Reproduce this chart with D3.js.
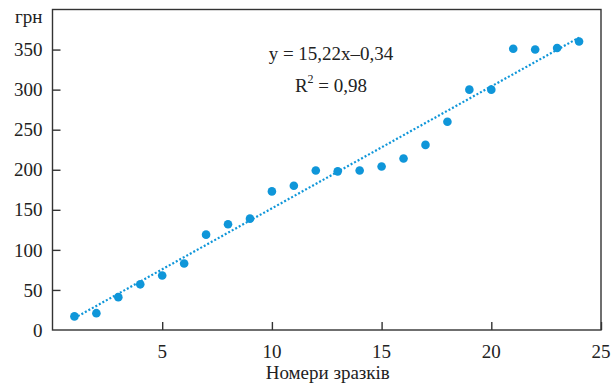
<!DOCTYPE html>
<html>
<head>
<meta charset="utf-8">
<script src="https://cdn.jsdelivr.net/npm/d3@7"></script>
<style>
  body { margin: 0; background: #fff; }
  svg text { font-family: "Liberation Serif", "DejaVu Serif", serif; fill: #222; }
</style>
</head>
<body>
<div id="chart"></div>
<script>
// номери зразків і ціни
var samples = [1, 2, 3, 4, 5, 6, 7, 8, 9, 10, 11, 12, 13, 14, 15, 16, 17, 18, 19, 20, 21, 22, 23, 24];
var prices = [17, 21, 41, 57, 68, 83, 119, 132, 139, 173, 180, 199, 198, 199, 204, 214, 231, 260, 300, 300, 351, 350, 352, 360];
var xTicks = [5, 10, 15, 20, 25];
var yTicks = [0, 50, 100, 150, 200, 250, 300, 350];
var trend = { slope: 15.22, intercept: -0.34 };
var eqLines = ["y = 15,22x–0,34", "R2 = 0,98"];

var width = 612, height = 384;
var margin = { top: 9.5, right: 11, bottom: 54, left: 52.5 };

var svg = d3.select("#chart").append("svg")
    .attr("width", width)
    .attr("height", height);

var x = d3.scaleLinear().domain([0, 25]).range([margin.left, width - margin.right]);
var y = d3.scaleLinear().domain([0, 400]).range([height - margin.bottom, margin.top]);

var color = "#0f96d9";

// рамка
svg.append("rect")
    .attr("x", x(0)).attr("y", y(400))
    .attr("width", x(25) - x(0)).attr("height", y(0) - y(400))
    .attr("fill", "none").attr("stroke", "#333").attr("stroke-width", 1.4);

// осі
var gx = svg.append("g")
    .attr("transform", "translate(0," + y(0) + ")")
    .call(d3.axisTop(x).tickValues(xTicks).tickSize(8).tickFormat(""));
gx.select(".domain").remove();
gx.selectAll("line").attr("stroke", "#333").attr("stroke-width", 1.4);

svg.append("g").selectAll("text")
    .data(xTicks).enter().append("text")
    .attr("x", d => x(d)).attr("y", y(0) + 28)
    .attr("text-anchor", "middle")
    .style("font-size", "19px")
    .text(d => d);

var gy = svg.append("g")
    .attr("transform", "translate(" + x(0) + ",0)")
    .call(d3.axisRight(y).tickValues(yTicks.slice(1)).tickSize(8).tickFormat(""));
gy.select(".domain").remove();
gy.selectAll("line").attr("stroke", "#333").attr("stroke-width", 1.4);

svg.append("g").selectAll("text")
    .data(yTicks).enter().append("text")
    .attr("x", x(0) - 10).attr("y", d => y(d))
    .attr("dy", "0.35em")
    .attr("text-anchor", "end")
    .style("font-size", "19px")
    .text(d => d);

svg.append("text")
    .attr("x", x(0) - 10).attr("y", y(400) + 13)
    .attr("text-anchor", "end")
    .style("font-size", "19px")
    .text("грн");

svg.append("text")
    .attr("x", (x(0) + x(25)) / 2 + 1).attr("y", height - 5)
    .attr("text-anchor", "middle")
    .style("font-size", "19px")
    .text("Номери зразків");

// лінія тренду
var x0 = samples[0], x1 = samples[samples.length - 1];
svg.append("line")
    .attr("x1", x(x0)).attr("y1", y(trend.slope * x0 + trend.intercept))
    .attr("x2", x(x1)).attr("y2", y(trend.slope * x1 + trend.intercept))
    .attr("stroke", color).attr("stroke-width", 2.2)
    .attr("stroke-dasharray", "2,2");

// точки
svg.append("g").selectAll("circle")
    .data(samples).enter().append("circle")
    .attr("cx", d => x(d))
    .attr("cy", (d, i) => y(prices[i]))
    .attr("r", 4.3)
    .attr("fill", color);

// рівняння
var eq = svg.append("g").style("font-size", "19px");
eq.append("text")
    .attr("x", 331).attr("y", 60)
    .attr("text-anchor", "middle")
    .text(eqLines[0]);
var r2 = eq.append("text")
    .attr("x", 331).attr("y", 92)
    .attr("text-anchor", "middle");
r2.append("tspan").text("R");
r2.append("tspan").attr("dy", -9).style("font-size", "12px").text("2");
r2.append("tspan").attr("dy", 9).text(" = 0,98");
</script>
</body>
</html>
